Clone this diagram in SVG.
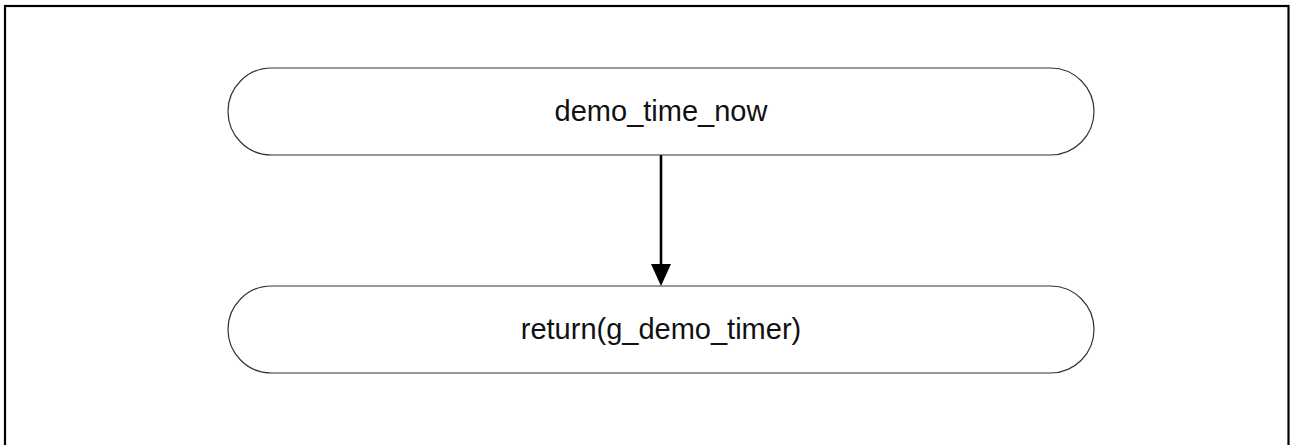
<svg xmlns="http://www.w3.org/2000/svg" width="1290" height="445" viewBox="0 0 1290 445">
  <style>
    .frame { fill: none; stroke: #000; stroke-width: 2.2; }
    .term { fill: #fff; stroke: #333; stroke-width: 1.2; }
    .label { font-family: "Liberation Sans", Arial, sans-serif; font-size: 29px; fill: #111; text-anchor: middle; }
    .flow { stroke: #000; stroke-width: 2.6; fill: none; }
  </style>
  <defs>
    <marker id="arrow" markerUnits="userSpaceOnUse" markerWidth="22" markerHeight="24" refX="10" refY="22" orient="auto-start-reverse" viewBox="0 0 20 22">
      <path d="M0,0 L20,0 L10,22 Z" fill="#000"/>
    </marker>
  </defs>

  <!-- page frame, open at the bottom edge -->
  <rect class="frame" x="5" y="6" width="1283.5" height="470"/>

  <g id="connectors">
    <line class="flow" x1="661" y1="155" x2="661" y2="264"/>
    <path d="M651,264 L671,264 L661,286 Z" fill="#000"/>
  </g>

  <g id="node-start">
    <rect class="term" x="228" y="68" width="866" height="87" rx="43.5" ry="43.5"/>
    <text class="label" x="661" y="121">demo_time_now</text>
  </g>

  <g id="node-return">
    <rect class="term" x="228" y="286" width="866" height="87" rx="43.5" ry="43.5"/>
    <text class="label" x="661" y="339">return(g_demo_timer)</text>
  </g>
</svg>
